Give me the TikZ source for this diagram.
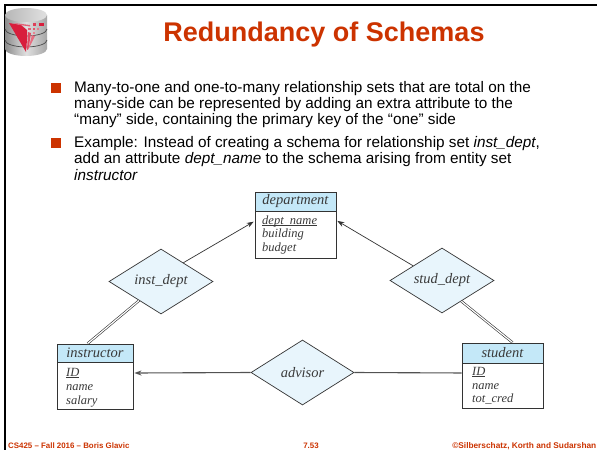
\documentclass[tikz,border=0pt]{standalone}
\usepackage{fontspec}
\setmainfont{Liberation Sans}
\newfontfamily\erfont{Liberation Serif}
\usetikzlibrary{shapes.geometric,arrows.meta}
\definecolor{slidered}{HTML}{CC3300}
\definecolor{headblue}{HTML}{C4E8F8}
\definecolor{relblue}{HTML}{E8F5FC}
\definecolor{erline}{HTML}{333333}
\definecolor{ertext}{HTML}{3A3A3A}
\definecolor{logored}{HTML}{D81E3C}
\tikzset{
  x=1pt,y=-1pt,
  bodyline/.style={anchor=base west,inner sep=0pt,font=\fontsize{15.3}{16}\selectfont,text=black},
  foot/.style={inner sep=0pt,font=\bfseries\fontsize{7.9}{8}\selectfont,text=slidered},
  bullet/.style={fill=slidered,draw=none,inner sep=0pt,minimum width=10pt,minimum height=10pt},
  headbox/.style={draw=erline,line width=0.9pt,fill=headblue,inner sep=0pt,text=ertext,font=\erfont\itshape\fontsize{14.5}{16}\selectfont},
  attbox/.style={draw=erline,line width=0.9pt,fill=white,inner sep=0pt},
  attr/.style={anchor=base west,inner sep=0pt,text=ertext,font=\erfont\itshape\fontsize{12.5}{13}\selectfont},
  rel/.style={diamond,draw=erline,line width=0.7pt,fill=relblue,inner sep=0pt,aspect=1.6,text=ertext,font=\erfont\itshape\fontsize{14.5}{16}\selectfont},
  link/.style={draw=erline,line width=0.7pt},
  arrowlink/.style={link,-{Stealth[length=7pt,width=5pt]},shorten >=1pt},
  hlink/.style={draw=erline!85,line width=1.1pt},
  total/.style={draw=erline,line width=0.6pt,double=white,double distance=1.2pt},
}
\begin{document}
\begin{tikzpicture}
\useasboundingbox (0,0) rectangle (597,450);
\fill[white] (0,0) rectangle (597,450);
% frame
\draw[black,line width=2pt] (597,5) -- (5,5) -- (5,450);
% logo
\shade[left color=black!45,right color=black!35,middle color=black!12] (5,15) -- (5,49) arc[x radius=21pt,y radius=7pt,start angle=180,end angle=360] -- (47,15) -- cycle;
\shade[left color=black!28,right color=black!12] (26,15) ellipse[x radius=21pt,y radius=7pt];
\draw[black!70,line width=0.7pt] (5,29) arc[x radius=21pt,y radius=7pt,start angle=180,end angle=360];
\draw[black!70,line width=0.7pt] (5,40) arc[x radius=21pt,y radius=7pt,start angle=180,end angle=360];
\fill[logored] (9,23) -- (21,25) -- (27,30) -- (27,40) -- (26,52) -- cycle;
\fill[logored!80] (28,32) -- (31,33) -- (28.5,49) -- (27,50) -- cycle;
\fill[logored!65] (32,35) -- (35,36) -- (29.5,47) -- (28.5,48) -- cycle;
\fill[logored!70] (14,23) -- (30,25) -- (30,26.5) -- (20,25) -- cycle;
\fill[logored] (39,23) rectangle (44,26);
\fill[logored!85] (33,23) rectangle (36,25.5);
\fill[logored!70] (28,27.5) rectangle (31,29.5);
\fill[logored!75] (33,28) rectangle (35,30);
\fill[logored!60] (37,28) rectangle (39,30);
\fill[logored!55] (33,32) rectangle (35,34);
% title
\node[inner sep=0pt,text=slidered,font=\bfseries\fontsize{27}{30}\selectfont] (title) at (324,35) {Redundancy of Schemas};
% bullets
\node[bullet] (b1) at (56,87.5) {};
\node[bullet] (b2) at (56,143) {};
% body
\node[bodyline] (l1) at (74,92) {Many-to-one and one-to-many relationship sets that are total on the};
\node[bodyline] (l2) at (74,108) {many-side can be represented by adding an extra attribute to the};
\node[bodyline] (l3) at (74,124) {“many” side, containing the primary key of the “one” side};
\node[bodyline] (l4) at (74,147) {Example: Instead of creating a schema for relationship set \textit{inst\_dept},};
\node[bodyline] (l5) at (74,163) {add an attribute \textit{dept\_name} to the schema arising from entity set};
\node[bodyline] (l6) at (74,180) {\textit{instructor}};
% department
\node[headbox,minimum width=81pt,minimum height=19pt] (deptH) at (295.5,201.5) {department};
\node[attbox,minimum width=81pt,minimum height=47pt] (deptB) at (295.5,234.5) {};
\node[attr] (d1) at (262,224) {\underline{\smash{dept\_name}}};
\node[attr] (d2) at (262,237.5) {building};
\node[attr] (d3) at (262,251) {budget};
% instructor
\node[headbox,minimum width=76pt,minimum height=18pt] (instH) at (95,353) {instructor};
\node[attbox,minimum width=76pt,minimum height=47pt] (instB) at (95,385.5) {};
\node[attr] (i1) at (66,376) {\underline{ID}};
\node[attr] (i2) at (66,390) {name};
\node[attr] (i3) at (66,404) {salary};
% student
\node[headbox,minimum width=81pt,minimum height=20pt] (studH) at (502.5,353) {student};
\node[attbox,minimum width=81pt,minimum height=45pt] (studB) at (502.5,385.5) {};
\node[attr] (s1) at (472,375) {\underline{ID}};
\node[attr] (s2) at (472,389) {name};
\node[attr] (s3) at (472,402.5) {tot\_cred};
% relationships
\node[rel,minimum width=104pt,minimum height=65pt] (instdept) at (161,281.5) {inst\_dept};
\node[rel,minimum width=104pt,minimum height=65pt] (studdept) at (442,280.5) {stud\_dept};
\node[rel,minimum width=103pt,minimum height=65pt] (advisor) at (302.5,372.5) {advisor};
% connectors
\draw[arrowlink] (instdept.40) -- (deptB.162);
\draw[arrowlink] (studdept.153) -- (deptB.19.5);
\draw[total] (instdept.221.5) -- (instH.128);
\draw[total] (studdept.-47) -- (studH.46);
\draw[hlink,-{Stealth[length=7pt,width=5pt]},shorten >=1pt] (advisor.west) -- (instB.18);
\draw[hlink] (advisor.east) -- (studB.163);
% footer
\node[foot,anchor=base west] (f1) at (8,448.4) {CS425 – Fall 2016 – Boris Glavic};
\node[foot,anchor=base] (f2) at (311,448.4) {7.53};
\node[foot,anchor=base east,font=\bfseries\fontsize{8.3}{9}\selectfont] (f3) at (596.5,448.4) {©Silberschatz, Korth and Sudarshan};
\end{tikzpicture}
\end{document}
